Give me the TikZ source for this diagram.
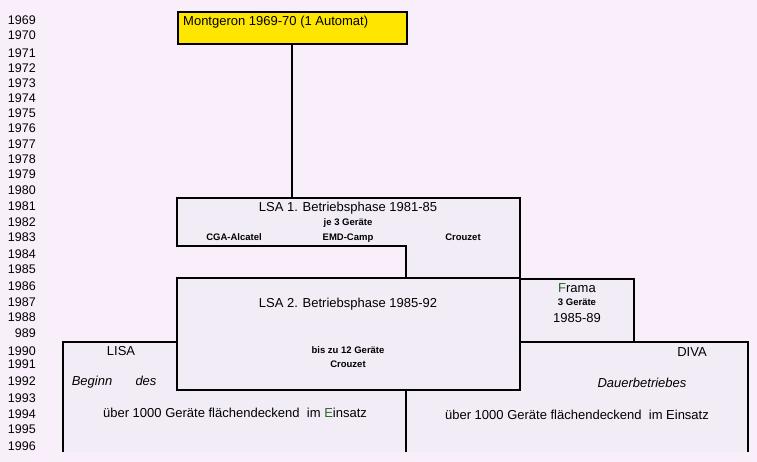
\documentclass[tikz,border=0pt]{standalone}
\usepackage{fontspec}
\setmainfont{Liberation Sans}
\definecolor{bg}{RGB}{248,239,250}
\definecolor{boxfill}{RGB}{242,236,246}
\definecolor{ylw}{RGB}{255,230,0}
\definecolor{dgreen}{RGB}{40,105,40}
\tikzset{
  frame/.style={draw=black, line width=2.2pt, line join=miter},
  yr/.style={anchor=base east, inner sep=0pt, font=\fontsize{12.5}{14}\selectfont},
  big/.style={anchor=base, inner sep=0pt, font=\fontsize{13}{15}\selectfont},
  small/.style={anchor=base, inner sep=0pt, font=\bfseries\fontsize{9.5}{11}\selectfont},
  ital/.style={anchor=base, inner sep=0pt, font=\itshape\fontsize{13}{15}\selectfont},
}
\begin{document}
\begin{tikzpicture}[x=1pt,y=-1pt]
\fill[bg] (0,0) rectangle (757,462);
\useasboundingbox (0,0) rectangle (757,462);

% years
\foreach \t/\b in {1969/24.5,1970/39.5,1971/57.5,1972/72.5,1973/87.5,1974/102.5,1975/117.5,1976/132.5,1977/148.5,1978/163.5,1979/178.5,1980/194.5,1981/210.5,1982/226.5,1983/241.5,1984/258.5,1985/273.5,1986/290.5,1987/306.5,1988/321.5,989/337.5,1990/355.5,1991/368.5,1992/385.5,1993/402.5,1994/418.5,1995/433.5,1996/450.5}
  \node[yr] (y\t) at (36,\b) {\t};

% bottom region (LISA / DIVA)
\fill[boxfill] (63,342) -- (177,342) -- (177,390) -- (520,390) -- (520,342) -- (748,342) -- (748,452) -- (63,452) -- cycle;
\draw[frame] (63,452) -- (63,342) -- (177,342);
\draw[frame] (520,342) -- (748,342) -- (748,452);
\coordinate (midtop) at (406,390);
\coordinate (midbot) at (406,452);
\draw[frame] (midtop) -- (midbot);

% LSA 1
\draw[frame, fill=boxfill] (177,198) -- (520,198) -- (520,278) -- (406,278) -- (406,246) -- (177,246) -- cycle;
% LSA 2
\draw[frame, fill=boxfill] (177,278) rectangle (520,390);
% Frama
\draw[frame, fill=boxfill] (520,279) rectangle (634,342);

% Montgeron
\draw[frame, fill=ylw] (178,12) rectangle (407,44);
\coordinate (montbot) at (292,44);
\coordinate (lsatop) at (292,198);
\draw[frame] (montbot) -- (lsatop);
\node[big, anchor=base west] (mont) at (183,26) {Montgeron 1969-70 (1 Automat)};

% LSA 1 texts
\node[big] (lsa1) at (348,211.7) {LSA 1. Betriebsphase 1981-85};
\node[small] (je3) at (348,225.4) {je 3 Geräte};
\node[small] (cga) at (234,240.4) {CGA-Alcatel};
\node[small] (emd) at (348,240.4) {EMD-Camp};
\node[small] (crz1) at (463,240.4) {Crouzet};

% LSA 2 texts
\node[big] (lsa2) at (348,307.7) {LSA 2. Betriebsphase 1985-92};
\node[small] (bis12) at (348,353.4) {bis zu 12 Geräte};
\node[small] (crz2) at (348,367.4) {Crouzet};

% Frama texts
\node[big] (frama) at (577,292.7) {\textcolor{dgreen}{F}rama};
\node[small] (g3) at (577,305.4) {3 Geräte};
\node[big] (fy) at (577,322.7) {1985-89};

% LISA
\node[big] (lisa) at (121,355.7) {LISA};
\node[ital] (beginn) at (92,385.7) {Beginn};
\node[ital] (des) at (146,385.7) {des};
\node[big] (ueb1) at (235,417.7) {über 1000 Geräte flächendeckend\ \ im \textcolor{dgreen}{E}insatz};

% DIVA
\node[big] (diva) at (692,356.7) {DIVA};
\node[ital] (dauer) at (642,387.7) {Dauerbetriebes};
\node[big] (ueb2) at (577,419.7) {über 1000 Geräte flächendeckend\ \ im Einsatz};
\end{tikzpicture}
\end{document}
